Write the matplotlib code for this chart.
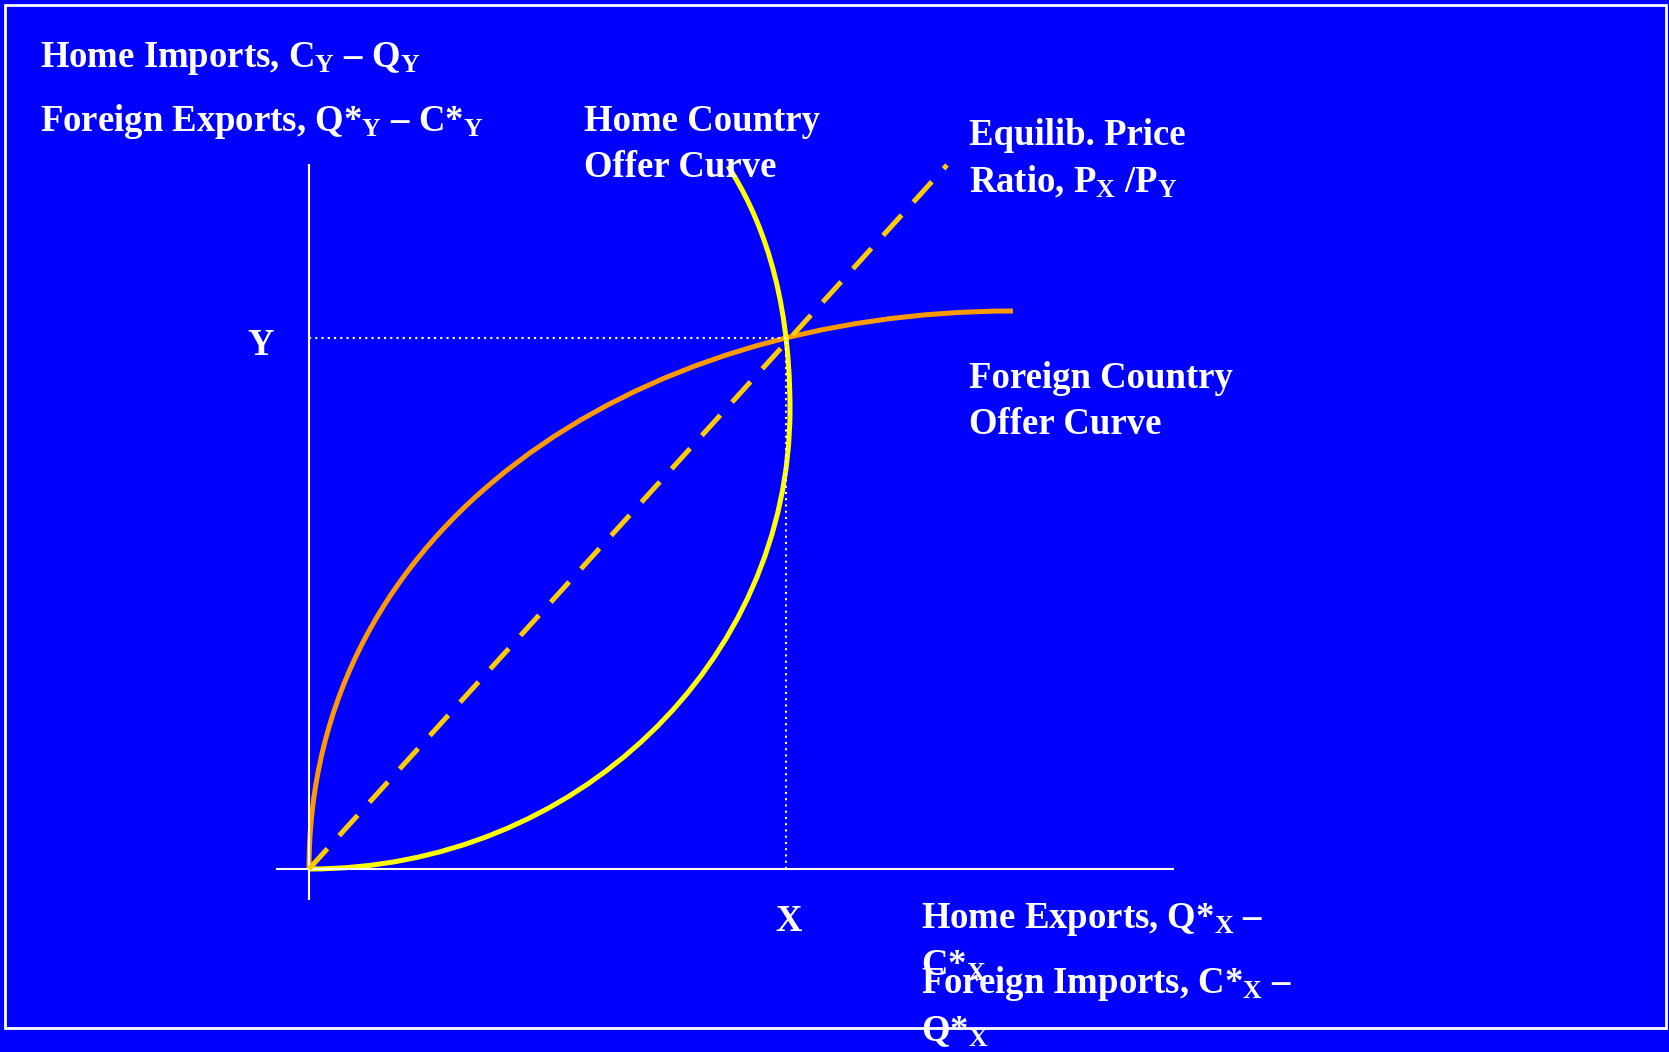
import matplotlib.pyplot as plt
from matplotlib.patches import Rectangle, PathPatch
from matplotlib.path import Path

plt.rcParams['font.family'] = ['Liberation Serif', 'DejaVu Serif']
plt.rcParams['font.weight'] = 'bold'
plt.rcParams['mathtext.fontset'] = 'custom'
plt.rcParams['mathtext.rm'] = 'Liberation Serif:bold'
plt.rcParams['mathtext.it'] = 'Liberation Serif:bold'
plt.rcParams['mathtext.bf'] = 'Liberation Serif:bold'

# offer curves as bezier control points (X exports on x, Y imports on y)
home_x = [0, 2.66, 4.81, 4.81, 4.81, 4.50, 4.19]
home_y = [0, 0.00, 2.06, 4.60, 5.80, 6.55, 7.03]

foreign_x = [0, 0.0, 3.20, 7.04]
foreign_y = [0, 3.4, 5.58, 5.58]

# equilibrium and price-ratio line
eq_x, eq_y = 4.77, 5.31
price_x = [0, 6.38]
price_y = [0, 7.04]

# axis extents
x_axis = [-0.32, 8.64]
y_axis = [-0.30, 7.04]

W, H = 1669, 1052
BLUE = '#0000FF'

fig = plt.figure(figsize=(W / 100, H / 100), dpi=100, facecolor=BLUE)
ax = fig.add_axes([0, 0, 1, 1])
ax.set_xlim(-3.09, 13.60)
ax.set_ylim(-1.83, 8.69)
ax.axis('off')

# axes
ax.plot(x_axis, [0, 0], color='white', lw=1.5)
ax.plot([0, 0], y_axis, color='white', lw=1.5)


def curve(xs, ys, color):
    codes = [Path.MOVETO] + [Path.CURVE4] * (len(xs) - 1)
    path = Path(list(zip(xs, ys)), codes)
    ax.add_patch(PathPatch(path, facecolor='none', edgecolor=color, lw=3.6))


curve(foreign_x, foreign_y, '#FF9900')
curve(home_x, home_y, '#FFFF00')
ax.plot(price_x, price_y, color='#FFCC00', lw=3.6, dashes=(5.5, 3.5))

# dotted guides to the equilibrium
ax.plot([0, eq_x], [eq_y, eq_y], color='white', lw=1.5, linestyle=(0, (1, 2)))
ax.plot([eq_x, eq_x], [0, eq_y], color='white', lw=1.5, linestyle=(0, (1, 2)))

# frame
fig.add_artist(Rectangle((5 / W, 1 - 1028 / H), 1661 / W, 1023 / H,
                         transform=fig.transFigure, fill=False,
                         edgecolor='white', lw=2))


def put(x, y, s, **kw):
    # y is the baseline of the last line, in pixels from the top
    fig.text(x / W, 1 - y / H, s, color='white', fontsize=26.5,
             fontweight='bold', va='baseline', linespacing=1.39, **kw)


put(40, 67, 'Home Imports, C$_\\mathrm{Y}$ – Q$_\\mathrm{Y}$')
put(40, 131, 'Foreign Exports, Q*$_\\mathrm{Y}$ – C*$_\\mathrm{Y}$')
put(584, 177, 'Home Country\nOffer Curve')
put(969, 192, 'Equilib. Price\nRatio, P$_\\mathrm{X}$ /P$_\\mathrm{Y}$')
put(969, 434, 'Foreign Country\nOffer Curve')
put(261, 355, 'Y', ha='center')
put(789, 931, 'X', ha='center')
put(921, 976, 'Home Exports, Q*$_\\mathrm{X}$ –\nC*$_\\mathrm{X}$')
put(921, 1041, 'Foreign Imports, C*$_\\mathrm{X}$ –\nQ*$_\\mathrm{X}$')

plt.savefig('out.png', dpi=100, facecolor=BLUE)
